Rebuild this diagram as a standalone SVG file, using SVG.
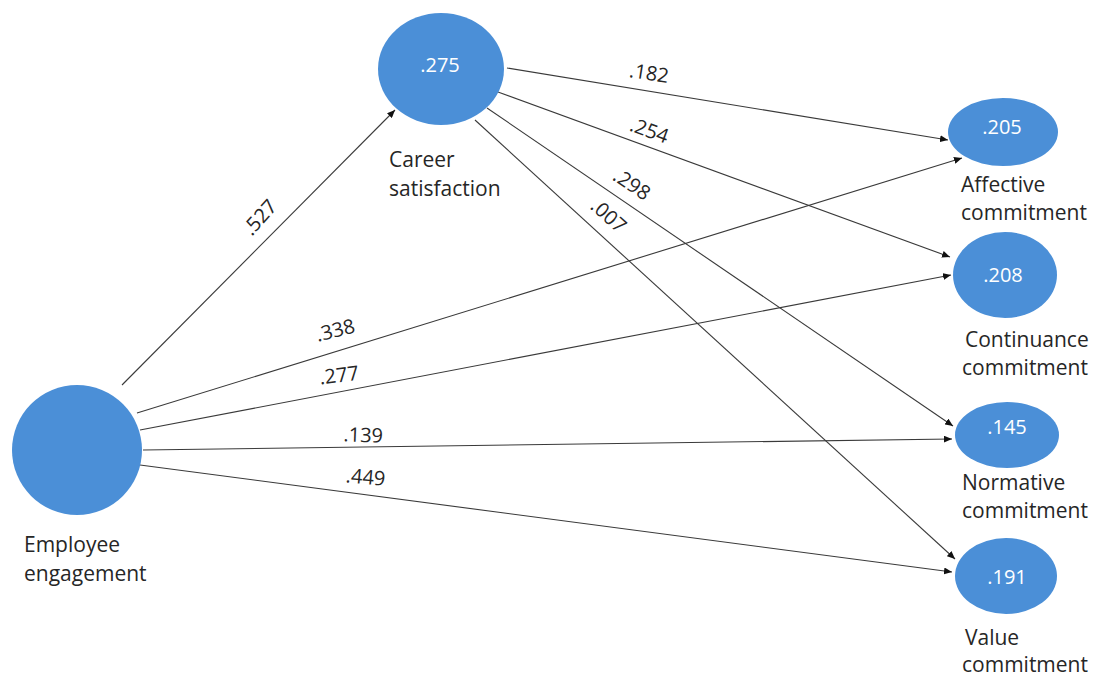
<svg xmlns="http://www.w3.org/2000/svg" width="1095" height="677" viewBox="0 0 1095 677">
<style>
.node{fill:#4b8fd7;}
.lbl{font-family:"Open Sans","Liberation Sans",sans-serif;font-size:21px;fill:#262626;}
.val{font-family:"Open Sans","Liberation Sans",sans-serif;font-size:20px;fill:#ffffff;text-anchor:middle;}
.coef{font-family:"Open Sans","Liberation Sans",sans-serif;font-size:20px;fill:#262626;text-anchor:middle;}
.edge{stroke:#3a3a3a;stroke-width:1.1;fill:none;marker-end:url(#arr);}
</style>
<defs>
<marker id="arr" markerUnits="userSpaceOnUse" markerWidth="9" markerHeight="7" refX="8" refY="3.5" orient="auto">
<path d="M0,0 L8,3.5 L0,7 z" fill="#111"/>
</marker>
</defs>
<rect width="1095" height="677" fill="#ffffff"/>
<g id="connectors">
<line class="edge" x1="122" y1="385" x2="395" y2="110"/>
<line class="edge" x1="507" y1="68" x2="948" y2="140"/>
<line class="edge" x1="498" y1="92" x2="950" y2="257"/>
<line class="edge" x1="487" y1="108" x2="953" y2="426"/>
<line class="edge" x1="475" y1="120" x2="955" y2="559"/>
<line class="edge" x1="137" y1="413" x2="962" y2="158"/>
<line class="edge" x1="140" y1="430" x2="951" y2="275"/>
<line class="edge" x1="143" y1="450" x2="952" y2="439"/>
<line class="edge" x1="140" y1="465" x2="952" y2="572"/>
<text class="coef" transform="translate(265,222) rotate(-48)">.527</text>
<text class="coef" transform="translate(648,80) rotate(9)">.182</text>
<text class="coef" transform="translate(647,137) rotate(20)">.254</text>
<text class="coef" transform="translate(628,190) rotate(34)">.298</text>
<text class="coef" transform="translate(604,221) rotate(42)">.007</text>
<text class="coef" transform="translate(337,337) rotate(-14)">.338</text>
<text class="coef" transform="translate(340,382) rotate(-7)">.277</text>
<text class="coef" transform="translate(363,442) rotate(2)">.139</text>
<text class="coef" transform="translate(365,484) rotate(5)">.449</text>
</g>
<g id="employee-engagement">
<circle class="node" cx="77" cy="450" r="65"/>
<text class="lbl" x="24" y="552">Employee</text>
<text class="lbl" x="24" y="581">engagement</text>
</g>
<g id="career-satisfaction">
<ellipse class="node" cx="441" cy="69" rx="63" ry="56"/>
<text class="val" x="440" y="72">.275</text>
<text class="lbl" x="389" y="167">Career</text>
<text class="lbl" x="389" y="196">satisfaction</text>
</g>
<g id="affective-commitment">
<ellipse class="node" cx="1003" cy="132" rx="55" ry="34"/>
<text class="val" x="1002" y="134">.205</text>
<text class="lbl" x="961" y="192">Affective</text>
<text class="lbl" x="961" y="220">commitment</text>
</g>
<g id="continuance-commitment">
<ellipse class="node" cx="1005" cy="275" rx="52" ry="43"/>
<text class="val" x="1003" y="282">.208</text>
<text class="lbl" x="965" y="347">Continuance</text>
<text class="lbl" x="962" y="375">commitment</text>
</g>
<g id="normative-commitment">
<ellipse class="node" cx="1007" cy="435" rx="52" ry="33"/>
<text class="val" x="1007" y="434">.145</text>
<text class="lbl" x="962" y="490">Normative</text>
<text class="lbl" x="962" y="518">commitment</text>
</g>
<g id="value-commitment">
<ellipse class="node" cx="1006" cy="576" rx="51" ry="38"/>
<text class="val" x="1007" y="584">.191</text>
<text class="lbl" x="965" y="645">Value</text>
<text class="lbl" x="962" y="672">commitment</text>
</g>
</svg>
